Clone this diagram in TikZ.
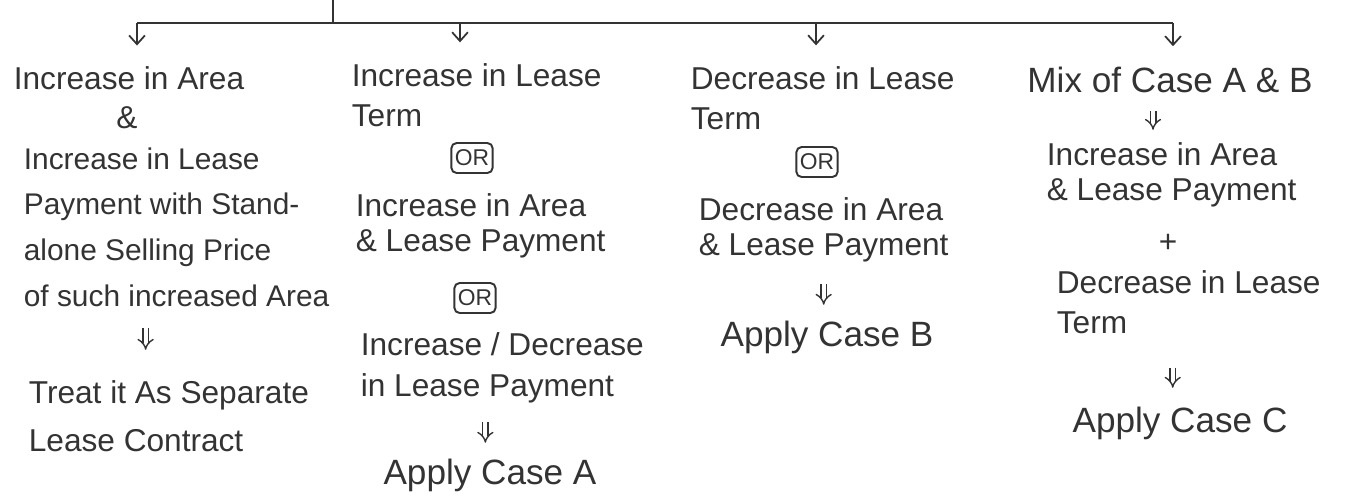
\documentclass[tikz,border=0pt]{standalone}
\usepackage{fontspec}
\setmainfont{Liberation Sans}
\usetikzlibrary{arrows.meta}
\definecolor{inkGrey}{RGB}{51,51,51}

\begin{document}
\begin{tikzpicture}[
    x=0.02cm, y=-0.02cm,
    every node/.style={text=inkGrey, inner sep=2pt},
    txt/.style={align=left, font=\fontsize{18}{#1}\selectfont},
    txt/.default=23pt,
    bigtxt/.style={font=\fontsize{20}{24}\selectfont},
    orbox/.style={draw=inkGrey, line width=1.1pt, rounded corners=3pt, minimum width=0.82cm, minimum height=0.6cm, font=\fontsize{13}{13}\selectfont},
    arrow/.style={draw=inkGrey, line width=1pt, -{Straight Barb[length=5pt, width=9pt]}, shorten >=0.34cm},
    dblarrow/.style={draw=inkGrey, double, double distance=2.4pt, line width=0.8pt, -{Implies}}
]
    \useasboundingbox (0,0) rectangle (1348,501);

    % column 1
    \node[txt, anchor=west] (c1a) at (10, 78) {Increase in Area};
    \node[txt] (c1b) at (127, 118) {\&};
    \node[txt=26pt, anchor=west, font=\fontsize{17}{26}\selectfont] (c1c) at (20, 227) {Increase in Lease\\Payment with Stand-\\alone Selling Price\\of such increased Area};
    \node[txt=27pt, anchor=west] (c1d) at (25, 416) {Treat it As Separate\\Lease Contract};

    % column 2
    \node[txt, anchor=west] (c2a) at (348, 95) {Increase in Lease\\Term};
    \node[orbox] (or1) at (472, 158) {OR};
    \node[txt=20pt, anchor=west] (c2b) at (352, 226) {Increase in Area\\\& Lease Payment};
    \node[orbox] (or2) at (475, 298) {OR};
    \node[txt, anchor=west] (c2c) at (357, 368) {Increase / Decrease\\in Lease Payment};
    \node[bigtxt] (c2d) at (490, 475) {Apply Case A};

    % column 3
    \node[txt, anchor=west] (c3a) at (687, 98) {Decrease in Lease\\Term};
    \node[orbox] (or3) at (817, 162) {OR};
    \node[txt=20pt, anchor=west] (c3b) at (695, 230) {Decrease in Area\\\& Lease Payment};
    \node[bigtxt] (c3c) at (827, 337) {Apply Case B};

    % column 4
    \node[bigtxt] (c4a) at (1170, 80) {Mix of Case A \& B};
    \node[txt=20pt, anchor=west] (c4b) at (1043, 175) {Increase in Area\\\& Lease Payment};
    \node[txt] (c4p) at (1168, 243) {+};
    \node[txt, anchor=west] (c4c) at (1053, 302) {Decrease in Lease\\Term};
    \node[bigtxt] (c4d) at (1180, 423) {Apply Case C};

    % top branching
    \coordinate (root) at (333, 0);
    \coordinate (bar) at (333, 23);
    \coordinate (b1) at (137, 23);
    \coordinate (b2) at (460, 23);
    \coordinate (b3) at (816, 23);
    \coordinate (b4) at (1173, 23);
    \draw[draw=inkGrey, line width=1pt] (root) -- (bar);
    \draw[draw=inkGrey, line width=1pt] (b1) -- (b4);
    \draw[arrow] (b1) -- (b1 |- c1a.north);
    \draw[arrow] (b2) -- (b2 |- c2a.north);
    \draw[arrow] (b3) -- (b3 |- c3a.north);
    \draw[arrow] (b4) -- (b4 |- c4a.north);

    % double arrows
    \draw[dblarrow, shorten <=0.36cm, shorten >=0.54cm] ([xshift=-0.62cm]c1c.south) -- ([xshift=-0.62cm]c1c.south |- c1d.north);
    \draw[dblarrow, shorten <=0.3cm, shorten >=0.24cm] ([xshift=-0.34cm]c2c.south) -- ([xshift=-0.34cm]c2c.south |- c2d.north);
    \draw[dblarrow, shorten <=0.36cm, shorten >=0.24cm] (c3b.south) -- (c3b.south |- c3c.north);
    \draw[dblarrow, shorten <=0.28cm, shorten >=0.18cm] ([xshift=-0.34cm]c4a.south) -- ([xshift=-0.34cm]c4a.south |- c4b.north);
    \draw[dblarrow, shorten <=0.6cm, shorten >=0.3cm] ([xshift=-0.32cm]c4c.south) -- ([xshift=-0.32cm]c4c.south |- c4d.north);
\end{tikzpicture}
\end{document}
